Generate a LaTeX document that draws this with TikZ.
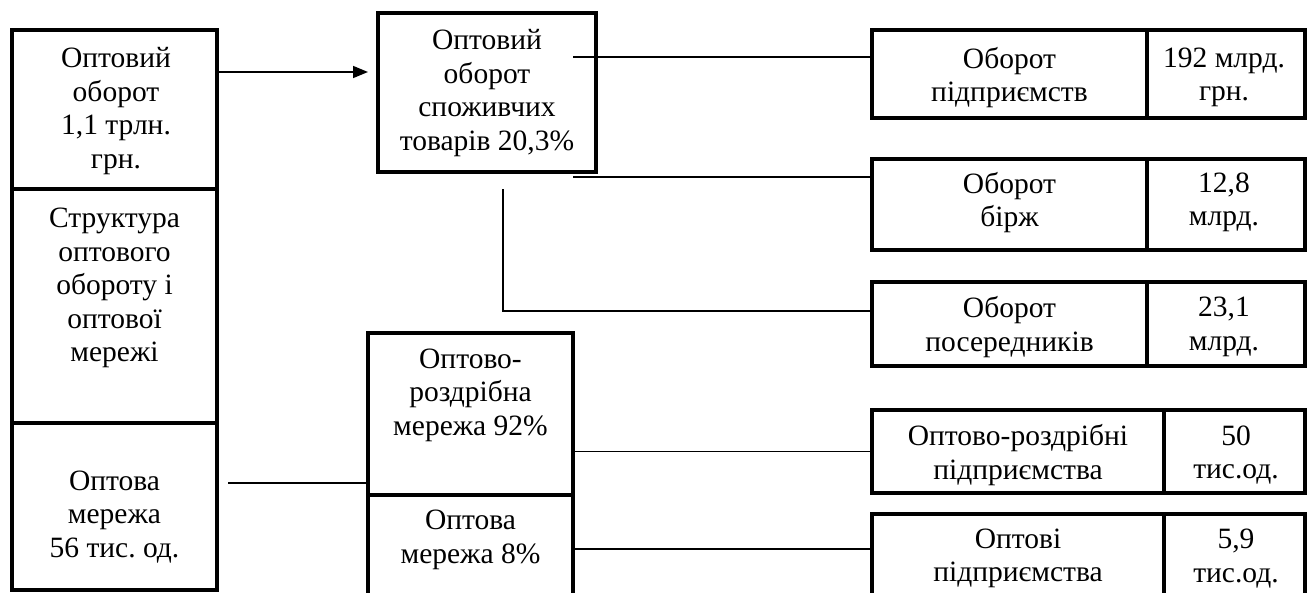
\documentclass[tikz,border=0pt]{standalone}
\usepackage{fontspec}
\setmainfont{Liberation Serif}
\usetikzlibrary{arrows.meta}
\frenchspacing
\begin{document}
\begin{tikzpicture}[x=1pt,y=-1pt,
  box/.style={draw,line width=4pt,inner sep=0pt,outer sep=0pt,rectangle},
  txt/.style={align=center,inner sep=0pt,font=\fontsize{29.5}{33.5}\selectfont},
  conn/.style={line width=1.6pt},
  arr/.style={conn,-{Triangle[length=15pt,width=12pt]}}
]
\useasboundingbox (0,0) rectangle (1307,592);
% left column
\node[box,minimum width=205pt,minimum height=159pt] (L1) at (114.5,109.5) {};
\node[box,minimum width=205pt,minimum height=234pt] (L2) at (114.5,306) {};
\node[box,minimum width=205pt,minimum height=167pt] (L3) at (114.5,506.5) {};
\node[txt] (tL1) at (116,111) {Оптовий\\оборот\\1,1 трлн.\\грн.};
\node[txt] (tL2) at (114.5,288) {Структура\\оптового\\обороту і\\оптової\\мережі};
\node[txt] (tL3) at (114.5,517) {Оптова\\мережа\\56 тис. од.};
% centre top box
\node[box,line width=4.5pt,minimum width=218pt,minimum height=159pt] (C) at (487,92.5) {};
\node[txt] (tC) at (487,93) {Оптовий\\оборот\\споживчих\\товарів 20,3\%};
% middle bottom boxes
\node[box,minimum width=205pt,minimum height=162pt] (M1) at (470.5,414) {};
\node[box,minimum width=205pt,minimum height=105pt] (M2) at (470.5,547.5) {};
\node[txt] (tM1) at (470.5,395) {Оптово-\\роздрібна\\мережа 92\%};
\node[txt] (tM2) at (470.5,540) {Оптова\\мережа 8\%};
% right boxes
\node[box,minimum width=275pt,minimum height=88pt] (R1a) at (1009.5,74) {};
\node[box,minimum width=158pt,minimum height=88pt] (R1b) at (1226,74) {};
\node[box,minimum width=275pt,minimum height=91pt] (R2a) at (1009.5,204.5) {};
\node[box,minimum width=158pt,minimum height=91pt] (R2b) at (1226,204.5) {};
\node[box,minimum width=275pt,minimum height=84pt] (R3a) at (1009.5,324) {};
\node[box,minimum width=158pt,minimum height=84pt] (R3b) at (1226,324) {};
\node[box,minimum width=292pt,minimum height=83pt] (R4a) at (1018,451.5) {};
\node[box,minimum width=141pt,minimum height=83pt] (R4b) at (1234.5,451.5) {};
\node[box,minimum width=292pt,minimum height=86pt] (R5a) at (1018,557) {};
\node[box,minimum width=141pt,minimum height=86pt] (R5b) at (1234.5,557) {};
\node[txt] (tR1a) at (1009.5,77.5) {Оборот\\підприємств};
\node[txt] (tR1b) at (1224,77.5) {192 млрд.\\грн.};
\node[txt] (tR2a) at (1009.5,202.5) {Оборот\\бірж};
\node[txt] (tR2b) at (1224,202.5) {12,8\\млрд.};
\node[txt] (tR3a) at (1009.5,327) {Оборот\\посередників};
\node[txt] (tR3b) at (1224,327) {23,1\\млрд.};
\node[txt] (tR4a) at (1018,455) {Оптово-роздрібні\\підприємства};
\node[txt] (tR4b) at (1236,455) {50\\тис.од.};
\node[txt] (tR5a) at (1018,558.5) {Оптові\\підприємства};
\node[txt] (tR5b) at (1236,558.5) {5,9\\тис.од.};
% connectors
\coordinate (ya) at (0,72);
\draw[arr,shorten >=10pt] (L1.east |- ya) -- (C.west |- ya);
\coordinate (p1) at (573,57);
\draw[conn] (p1) -- (R1a.west |- p1);
\coordinate (p2) at (573,177);
\draw[conn] (p2) -- (R2a.west |- p2);
\coordinate (p3) at (503,189);
\coordinate (p3b) at (0,311);
\draw[conn] (p3) |- (R3a.west |- p3b);
\coordinate (p4) at (228,483);
\draw[conn] (p4) -- (M1.west |- p4);
\draw[conn] (R4a.west -| M1.east) -- (R4a.west);
\coordinate (p6) at (0,549);
\draw[conn] (M2.east |- p6) -- (R5a.west |- p6);
\end{tikzpicture}
\end{document}
